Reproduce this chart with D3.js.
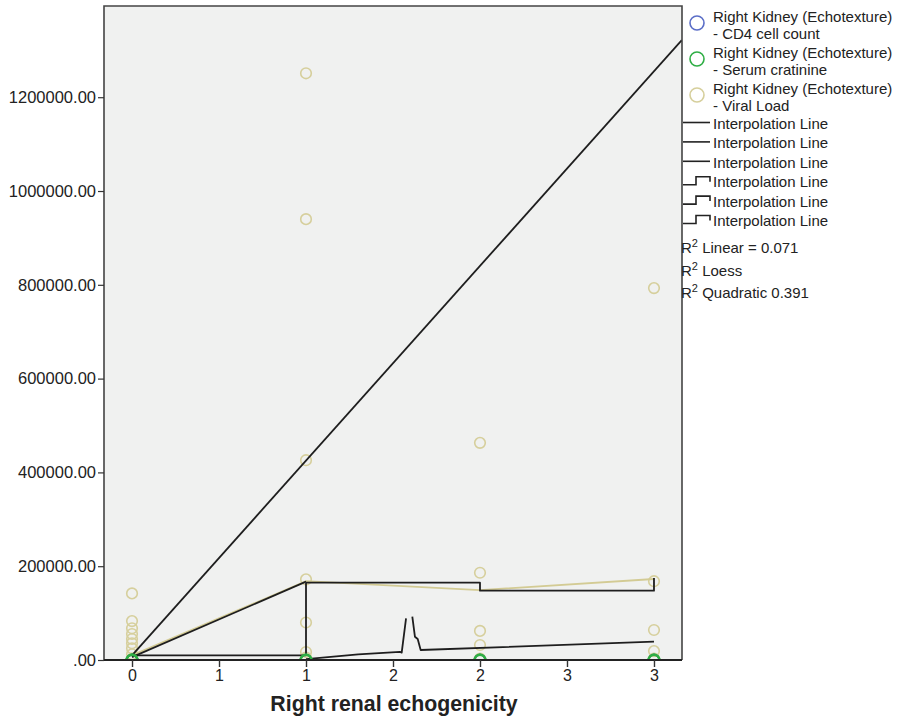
<!DOCTYPE html>
<html>
<head>
<meta charset="utf-8">
<script src="https://cdn.jsdelivr.net/npm/d3@7"></script>
<style>
  html, body { margin: 0; padding: 0; background: #ffffff; }
  svg { display: block; font-family: "Liberation Sans", Arial, sans-serif; }
</style>
</head>
<body>
<svg id="chart" width="903" height="719"></svg>
<script>
// Echogenicity groups on the x axis
const groups = [0, 1, 2, 3];

// Scatter values per group
const cd4Values = [[420, 380, 300], [350, 410], [390, 330], [360, 300]];
const creatinineValues = [[1.2, 1.0, 0.9], [1.1, 1.3], [1.0, 1.2], [1.1, 0.9]];
const viralLoadValues = [
  [142000, 83000, 67600, 55400, 44800, 35600, 24900, 12000, 3000],
  [1251000, 940000, 426000, 172000, 80000, 17000, 5000],
  [463000, 186000, 62000, 32000, 3000],
  [793000, 168000, 64000, 19000, 3000]
];

// Fit and interpolation lines as [x, y] pairs
const linearFit = [[0, 10000], [3.16, 1322000]];
const viralMeanLine = [[0, 10000], [1, 168000], [2, 149000], [3, 172700]];
const straightInterp = [[0, 6000], [1, 167000]];
const stepInterpHigh = [[1, 164800], [2, 164800], [2, 147800], [3, 147800], [3, 174800]];
const stepInterpLow = [[0, 10000], [1, 10000], [1, 164800]];
const loessLeft = [[1, 2000], [1.3, 12000], [1.54, 17500], [1.55, 15600], [1.575, 88900]];
const loessRight = [[1.611, 92300], [1.626, 49700], [1.642, 44800], [1.659, 21300], [3, 39000]];

// Axis ticks
const xTickValues = [0, 0.5, 1, 1.5, 2, 2.5, 3];
const xTickLabels = ["0", "1", "1", "2", "2", "3", "3"];
const yTickValues = [0, 200000, 400000, 600000, 800000, 1000000, 1200000];
const yTickLabels = [".00", "200000.00", "400000.00", "600000.00", "800000.00", "1000000.00", "1200000.00"];

// Legend texts
const seriesNames = [
  ["Right Kidney (Echotexture)", "- CD4 cell count"],
  ["Right Kidney (Echotexture)", "- Serum cratinine"],
  ["Right Kidney (Echotexture)", "- Viral Load"]
];
const seriesColors = ["#5b6ec7", "#2fae45", "#d6cf9c"];
const interpNames = ["Interpolation Line", "Interpolation Line", "Interpolation Line",
                     "Interpolation Line", "Interpolation Line", "Interpolation Line"];
const fitLabels = ["Linear = 0.071", "Loess", "Quadratic 0.391"];

const svg = d3.select("#chart");
const plot = { left: 104, right: 682, top: 6, bottom: 660 };

const x = d3.scaleLinear().domain([-0.161, 3.161]).range([plot.left, plot.right]);
const y = d3.scaleLinear().domain([0, 1394500]).range([plot.bottom, plot.top]);

// Plot background
svg.append("rect")
  .attr("x", plot.left).attr("y", plot.top)
  .attr("width", plot.right - plot.left).attr("height", plot.bottom - plot.top)
  .attr("fill", "#f0f1f0");

svg.append("clipPath").attr("id", "plotClip")
  .append("rect")
  .attr("x", plot.left).attr("y", plot.top)
  .attr("width", plot.right - plot.left).attr("height", plot.bottom - plot.top);

const g = svg.append("g").attr("clip-path", "url(#plotClip)");

const line = d3.line().x(d => x(d[0])).y(d => y(d[1]));

// Scatter markers
function drawPoints(values, color, width) {
  const pts = [];
  values.forEach((arr, i) => arr.forEach(v => pts.push([groups[i], v])));
  g.append("g").selectAll("circle").data(pts).join("circle")
    .attr("cx", d => x(d[0])).attr("cy", d => y(d[1]))
    .attr("r", 5.3)
    .attr("fill", "none")
    .attr("stroke", color)
    .attr("stroke-width", width);
}
drawPoints(viralLoadValues, seriesColors[2], 1.6);
drawPoints(cd4Values, seriesColors[0], 1.6);

// Lines
g.append("path").datum(viralMeanLine).attr("d", line)
  .attr("fill", "none").attr("stroke", "#d3cb94").attr("stroke-width", 1.8);
[linearFit, straightInterp, stepInterpHigh, stepInterpLow, loessLeft, loessRight].forEach(data => {
  g.append("path").datum(data).attr("d", line)
    .attr("fill", "none").attr("stroke", "#1e1e1e").attr("stroke-width", 1.8)
    .attr("stroke-linejoin", "round");
});

drawPoints(creatinineValues, seriesColors[1], 2.4);

// Frame
svg.append("path")
  .attr("d", `M${plot.left},${plot.bottom}V${plot.top}H${plot.right}V${plot.bottom}`)
  .attr("fill", "none").attr("stroke", "#444").attr("stroke-width", 1.6);

// Y axis
const yAxis = d3.axisLeft(y).tickValues(yTickValues)
  .tickFormat((d, i) => yTickLabels[i]).tickSize(6).tickPadding(2);
const ya = svg.append("g").attr("transform", `translate(${plot.left},0)`).call(yAxis);
ya.select(".domain").remove();
ya.selectAll("line").attr("stroke", "#333").attr("stroke-width", 1.2);
ya.selectAll("text").attr("font-size", 16.5).attr("fill", "#222")
  .attr("font-family", "Liberation Sans, Arial, sans-serif");

// X axis
const xAxis = d3.axisBottom(x).tickValues(xTickValues)
  .tickFormat((d, i) => xTickLabels[i]).tickSize(7).tickPadding(3);
const xa = svg.append("g").attr("transform", `translate(0,${plot.bottom})`).call(xAxis);
xa.select(".domain").attr("d", `M${plot.left},0H${plot.right}`).attr("stroke", "#222").attr("stroke-width", 1.8);
xa.selectAll("line").attr("stroke", "#333").attr("stroke-width", 1.4);
xa.selectAll("text").attr("font-size", 16).attr("fill", "#222")
  .attr("font-family", "Liberation Sans, Arial, sans-serif");

svg.append("text")
  .attr("x", 394).attr("y", 711)
  .attr("text-anchor", "middle")
  .attr("font-size", 21.3).attr("font-weight", "bold").attr("fill", "#222")
  .text("Right renal echogenicity");

// Legend: series markers
const legend = svg.append("g").attr("font-size", 15).attr("fill", "#222");
seriesNames.forEach((lines, i) => {
  const cy = 23 + i * 36;
  legend.append("circle").attr("cx", 697).attr("cy", cy).attr("r", 7)
    .attr("fill", "none").attr("stroke", seriesColors[i]).attr("stroke-width", 1.6);
  lines.forEach((t, j) => {
    legend.append("text").attr("x", 713).attr("y", cy - 1.5 + j * 17).text(t);
  });
});

// Legend: interpolation line samples
interpNames.forEach((t, i) => {
  const cy = 122.5 + i * 19.4;
  if (i < 3) {
    legend.append("path").attr("d", `M683,${cy}H710`)
      .attr("stroke", "#222").attr("stroke-width", 1.6).attr("fill", "none");
  } else {
    legend.append("path").attr("d", `M683,${cy + 4}H696V${cy - 4}H710V${cy + 1}`)
      .attr("stroke", "#222").attr("stroke-width", 1.6).attr("fill", "none");
  }
  legend.append("text").attr("x", 713).attr("y", cy + 6.5).text(t);
});

// Legend: fit summaries
fitLabels.forEach((t, i) => {
  const cy = [247, 270, 292][i];
  const txt = legend.append("text").attr("x", 681).attr("y", cy + 6);
  txt.append("tspan").text("R");
  txt.append("tspan").attr("font-size", 11).attr("dy", -6).text("2");
  txt.append("tspan").attr("dy", 6).text(" " + t);
});
</script>
</body>
</html>
